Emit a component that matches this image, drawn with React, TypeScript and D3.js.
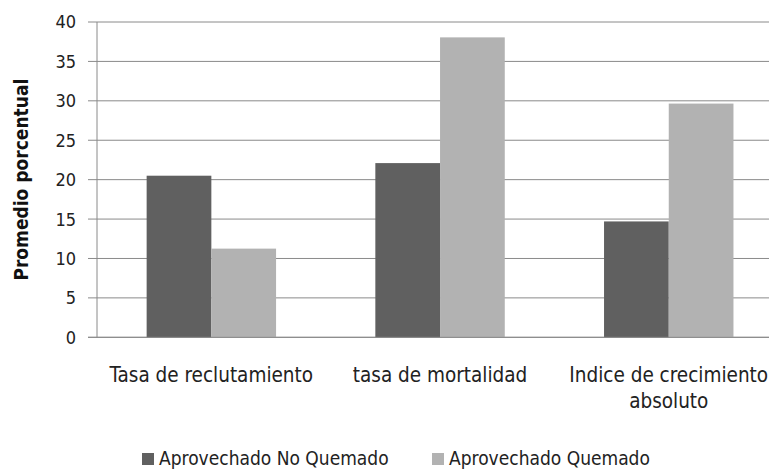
import React from "react";
import * as d3 from "d3";

const categories = ["Tasa de reclutamiento", "tasa de mortalidad", "Indice de crecimiento absoluto"];
const categoryLines = [["Tasa de reclutamiento"], ["tasa de mortalidad"], ["Indice de crecimiento", "absoluto"]];
const seriesNames = ["Aprovechado No Quemado", "Aprovechado Quemado"];
const noQuemado = [20.5, 22.1, 14.7];
const quemado = [11.25, 38.05, 29.65];
const yTicks = [0, 5, 10, 15, 20, 25, 30, 35, 40];
const colors = ["#606060", "#b2b2b2"];

const W = 769;
const H = 470;
const FONT = "'DejaVu Sans Condensed', 'DejaVu Sans', sans-serif";

export default function App() {
  const left = 97;
  const bandW = 228.7;
  const x = d3.scaleBand<string>().domain(categories).range([left, left + bandW * 3]).paddingInner(0).paddingOuter(0);
  const inner = d3.scaleBand<number>().domain([0, 1]).range([0, bandW]).paddingInner(0).paddingOuter(0.767);
  const y = d3.scaleLinear().domain([0, 40]).range([337.3, 22]);
  const series = [noQuemado, quemado];

  return (
    <div style={{ position: "absolute", left: 0, top: 0 }}>
      <svg width={W} height={H} style={{ display: "block", background: "#fff" }}>
        {yTicks.map((t) => (
          <g key={t}>
            <line x1={88} x2={W} y1={y(t)} y2={y(t)} stroke="#8a8a8a" strokeWidth={1} />
            <text x={76} y={y(t)} dy="0.36em" textAnchor="end" fontFamily={FONT} fontSize={18} fill="#222">
              {t}
            </text>
          </g>
        ))}
        <line x1={left} x2={left} y1={y(40)} y2={y(0)} stroke="#8a8a8a" strokeWidth={1} />
        {categories.map((c, ci) => (
          <g key={c}>
            {series.map((s, si) => (
              <rect
                key={si}
                x={(x(c) as number) + (inner(si) as number)}
                width={inner.bandwidth()}
                y={y(s[ci])}
                height={y(0) - y(s[ci])}
                fill={colors[si]}
              />
            ))}
            {categoryLines[ci].map((ln, li) => (
              <text
                key={li}
                x={(x(c) as number) + bandW / 2}
                y={382 + li * 26}
                textAnchor="middle"
                fontFamily={FONT}
                fontSize={20.5}
                fill="#222"
              >
                {ln}
              </text>
            ))}
          </g>
        ))}
        <line x1={88} x2={W} y1={y(0)} y2={y(0)} stroke="#8a8a8a" strokeWidth={1} />
        <text
          transform={`translate(28,${(y(0) + y(40)) / 2}) rotate(-90)`}
          textAnchor="middle"
          fontFamily={FONT}
          fontWeight="bold"
          fontSize={19}
          fill="#111"
        >
          Promedio porcentual
        </text>
        {seriesNames.map((n, i) => (
          <g key={n} transform={`translate(${i === 0 ? 142 : 432},0)`}>
            <rect x={0} y={453} width={12} height={12} fill={colors[i]} />
            <text x={17} y={465} fontFamily={FONT} fontSize={19} fill="#222">
              {n}
            </text>
          </g>
        ))}
      </svg>
    </div>
  );
}
